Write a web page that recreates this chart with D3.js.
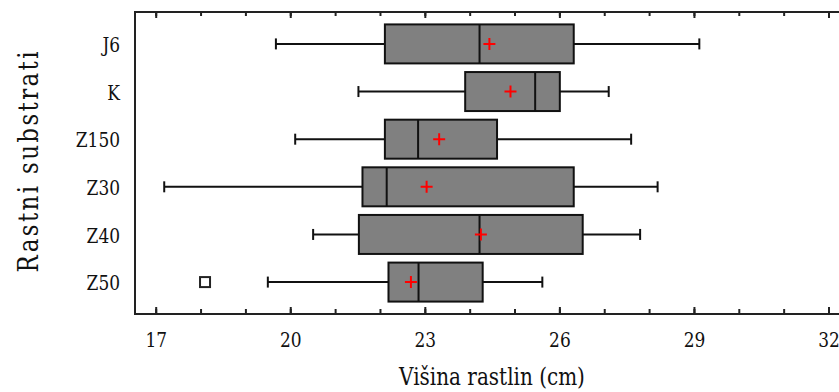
<!DOCTYPE html>
<html>
<head>
<meta charset="utf-8">
<script src="https://cdn.jsdelivr.net/npm/d3@7"></script>
<style>
  body { margin: 0; background: #fff; }
  svg { display: block; }
</style>
</head>
<body>
<div id="chart"></div>
<script>
// box plot values (cm)
const categories = ['J6', 'K', 'Z150', 'Z30', 'Z40', 'Z50'];
const whiskerLow = [19.68, 21.52, 20.11, 17.19, 20.51, 19.50];
const q1 = [22.11, 23.90, 22.11, 21.61, 21.53, 22.19];
const median = [24.22, 25.46, 22.85, 22.15, 24.22, 22.86];
const q3 = [26.32, 26.01, 24.61, 26.32, 26.52, 24.29];
const whiskerHigh = [29.12, 27.10, 27.60, 28.19, 27.80, 25.62];
const means = [24.44, 24.91, 23.32, 23.04, 24.25, 22.69];
const outlierCats = ['Z50'];
const outlierVals = [18.10];
const xTicks = [17, 20, 23, 26, 29, 32];

const width = 839, height = 392;
const plotLeft = 135, plotTop = 12, plotBottom = 314;
const serif = '"DejaVu Serif", serif';
const stretch = 1.25; // the original font is a tall bitmap serif

const svg = d3.select('#chart').append('svg')
    .attr('width', width)
    .attr('height', height);

const x = d3.scaleLinear()
    .domain([17, 32])
    .range([155.7, 828.5]);

const y = d3.scalePoint()
    .domain(categories)
    .range([plotTop, plotBottom])
    .padding(0.67);

const boxH = 39;
const capH = 11;

// frame
svg.append('line')
    .attr('x1', plotLeft).attr('x2', width + 5)
    .attr('y1', plotTop).attr('y2', plotTop)
    .attr('stroke', '#222').attr('stroke-width', 2);
svg.append('line')
    .attr('x1', plotLeft).attr('x2', width + 5)
    .attr('y1', plotBottom).attr('y2', plotBottom)
    .attr('stroke', '#222').attr('stroke-width', 2);
svg.append('line')
    .attr('x1', plotLeft).attr('x2', plotLeft)
    .attr('y1', plotTop - 1).attr('y2', plotBottom + 1)
    .attr('stroke', '#222').attr('stroke-width', 2);

// bottom axis: major ticks with labels, minor ticks
const minor = d3.range(17, 33);
svg.append('g')
    .attr('transform', 'translate(0,' + plotBottom + ')')
    .call(d3.axisBottom(x).tickValues(minor).tickSize(-5).tickFormat(''));
const gx = svg.append('g')
    .attr('transform', 'translate(0,' + plotBottom + ')')
    .call(d3.axisBottom(x).tickValues(xTicks).tickSize(-7).tickFormat(d3.format('d')));
gx.selectAll('.tick text')
    .attr('y', 33 / stretch)
    .attr('dy', null);

// top axis ticks (no labels)
svg.append('g')
    .attr('transform', 'translate(0,' + plotTop + ')')
    .call(d3.axisTop(x).tickValues(minor).tickSize(-4).tickFormat(''));
svg.append('g')
    .attr('transform', 'translate(0,' + plotTop + ')')
    .call(d3.axisTop(x).tickValues(xTicks).tickSize(-6).tickFormat(''));

svg.selectAll('.domain').remove();
svg.selectAll('.tick line').attr('stroke', '#222').attr('stroke-width', 2);

// category axis
const gy = svg.append('g')
    .attr('transform', 'translate(' + plotLeft + ',0)')
    .call(d3.axisLeft(y).tickSize(0).tickPadding(15));
gy.select('.domain').remove();
gy.selectAll('.tick text').attr('dy', '0.36em');

svg.selectAll('.tick text')
    .style('font-family', serif)
    .style('font-size', '17px')
    .attr('fill', '#111')
    .attr('transform', 'scale(1,' + stretch + ')');

// boxes
const rows = categories.map((c, i) => ({
  cat: c, lo: whiskerLow[i], q1: q1[i], med: median[i], q3: q3[i], hi: whiskerHigh[i], mean: means[i]
}));

const g = svg.append('g');
const row = g.selectAll('g.row').data(rows).enter().append('g').attr('class', 'row');

// whiskers
row.append('line')
    .attr('x1', d => x(d.lo)).attr('x2', d => x(d.q1))
    .attr('y1', d => y(d.cat)).attr('y2', d => y(d.cat))
    .attr('stroke', '#111').attr('stroke-width', 2);
row.append('line')
    .attr('x1', d => x(d.q3)).attr('x2', d => x(d.hi))
    .attr('y1', d => y(d.cat)).attr('y2', d => y(d.cat))
    .attr('stroke', '#111').attr('stroke-width', 2);
row.append('line')
    .attr('x1', d => x(d.lo)).attr('x2', d => x(d.lo))
    .attr('y1', d => y(d.cat) - capH / 2).attr('y2', d => y(d.cat) + capH / 2)
    .attr('stroke', '#111').attr('stroke-width', 2);
row.append('line')
    .attr('x1', d => x(d.hi)).attr('x2', d => x(d.hi))
    .attr('y1', d => y(d.cat) - capH / 2).attr('y2', d => y(d.cat) + capH / 2)
    .attr('stroke', '#111').attr('stroke-width', 2);

row.append('rect')
    .attr('x', d => x(d.q1))
    .attr('y', d => y(d.cat) - boxH / 2)
    .attr('width', d => x(d.q3) - x(d.q1))
    .attr('height', boxH)
    .attr('fill', '#808080')
    .attr('stroke', '#111').attr('stroke-width', 2);

row.append('line')
    .attr('x1', d => x(d.med)).attr('x2', d => x(d.med))
    .attr('y1', d => y(d.cat) - boxH / 2).attr('y2', d => y(d.cat) + boxH / 2)
    .attr('stroke', '#111').attr('stroke-width', 2);

// mean markers
const pl = 6;
row.append('path')
    .attr('d', d => {
      const cx = x(d.mean), cy = y(d.cat);
      return 'M' + (cx - pl) + ',' + cy + 'H' + (cx + pl) + 'M' + cx + ',' + (cy - pl) + 'V' + (cy + pl);
    })
    .attr('stroke', '#ff0000').attr('stroke-width', 2).attr('fill', 'none');

// outliers
g.selectAll('rect.out').data(outlierVals).enter().append('rect')
    .attr('class', 'out')
    .attr('x', d => x(d) - 5)
    .attr('y', (d, i) => y(outlierCats[i]) - 5)
    .attr('width', 10).attr('height', 10)
    .attr('fill', '#fff')
    .attr('stroke', '#222').attr('stroke-width', 2);

// axis titles
svg.append('text')
    .attr('transform', 'translate(492,385) scale(1,' + stretch + ')')
    .attr('text-anchor', 'middle')
    .style('font-family', serif)
    .style('font-size', '20px')
    .attr('fill', '#111')
    .text('Višina rastlin (cm)');

svg.append('text')
    .attr('transform', 'translate(38,162) rotate(-90) scale(1,' + stretch + ')')
    .attr('text-anchor', 'middle')
    .attr('textLength', 221)
    .attr('lengthAdjust', 'spacing')
    .style('font-family', serif)
    .style('font-size', '23px')
    .attr('fill', '#111')
    .text('Rastni substrati');
</script>
</body>
</html>
